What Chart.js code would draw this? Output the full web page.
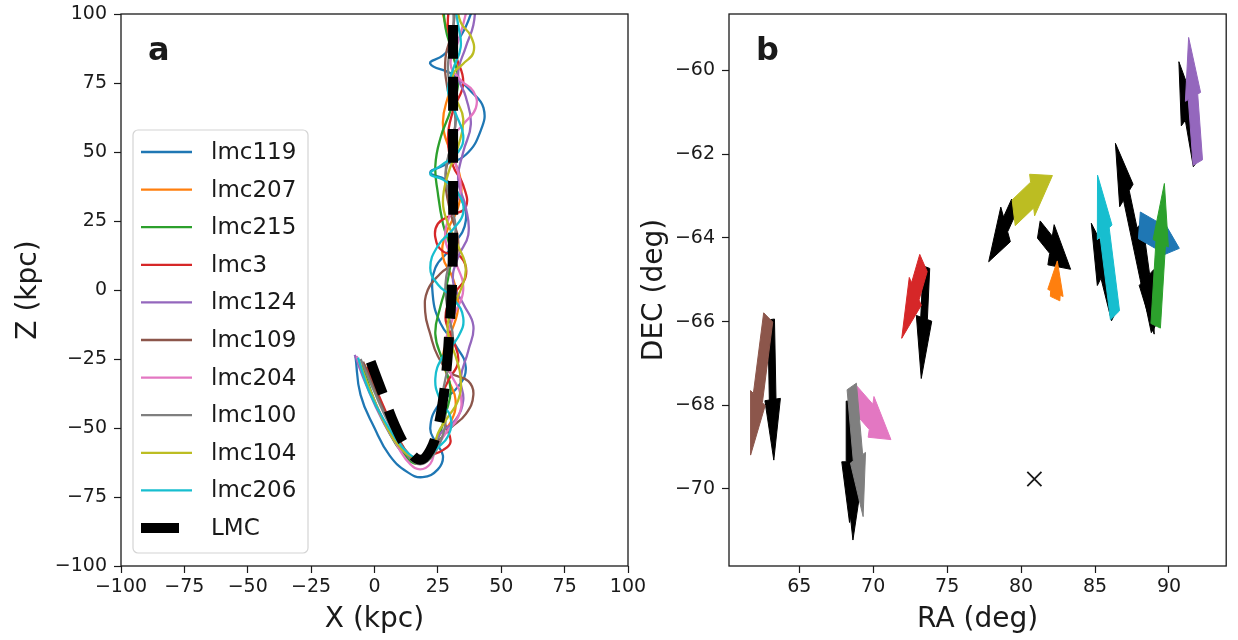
<!DOCTYPE html>
<html>
<head>
<meta charset="utf-8">
<script src="https://cdn.jsdelivr.net/npm/chart.js@4.4.1/dist/chart.umd.min.js"></script>
<style>
  body { margin: 0; background: #fff; }
  #wrap { position: relative; width: 1238px; height: 640px; overflow: hidden; }
  .panel { position: absolute; top: 0; height: 640px; }
</style>
</head>
<body>
<div id="wrap">
  <div class="panel" style="left:0;width:700px"><canvas id="orbits"></canvas></div>
  <div class="panel" style="left:630px;width:608px"><canvas id="motions"></canvas></div>
</div>
<script>
// ---- panel a: orbits in the X-Z plane (kpc) ----
const orbitNames = ['lmc119', 'lmc207', 'lmc215', 'lmc3', 'lmc124', 'lmc109', 'lmc204', 'lmc100', 'lmc104', 'lmc206'];
const orbitColors = ['#1f77b4', '#ff7f0e', '#2ca02c', '#d62728', '#9467bd', '#8c564b', '#e377c2', '#7f7f7f', '#bcbd22', '#17becf'];

const lmc119 = [[-7.5,-24],[-5.5,-38],[0,-50],[6,-60],[13,-66],[19,-67.8],[25,-65],[27,-60],[24,-55],[22,-50],[25,-42],[33,-35],[36,-28],[32,-20],[26,-12],[23,-2],[24,8],[30,15],[36,25],[33,35],[28,40],[22,42.5],[27,45],[36,49],[42,58],[43,66],[38,72],[31,78],[22,82],[27,85],[34,92],[38,100],[40,106]];
const lmc207 = [[-4,-27],[2,-40],[8,-52],[13,-60],[17,-63],[21,-61],[23,-56],[26,-52],[30,-48],[32,-40],[29,-32],[27,-24],[30,-16],[33,-6],[31,4],[27,12],[28,20],[33,30],[34,40],[30,50],[27,60],[29,70],[33,80],[30,90],[27,100],[26,106]];
const lmc215 = [[-5,-27],[0,-40],[6,-52],[12,-60],[17,-63],[22,-60],[25,-54],[28,-45],[30,-36],[27,-26],[24,-16],[26,-6],[29,4],[30,14],[27,24],[25,35],[24,45],[26,55],[30,65],[33,75],[31,85],[28,95],[27,106]];
const lmc3 = [[-3,-28],[3,-41],[9,-53],[14,-60],[18,-62],[22,-60],[27,-58],[30,-55],[28,-49],[26,-41],[29,-33],[33,-26],[31,-18],[28,-10],[31,-2],[36,5],[34,12],[27,14],[24,19],[25,24],[30,27],[36,30],[35,38],[31,45],[29,55],[31,65],[35,75],[32,85],[29,95],[30,106]];
const lmc124 = [[-7.8,-23.5],[-3,-35],[3,-47],[9,-56],[14,-60],[19,-61],[23,-57],[26,-52],[32,-47],[35,-40],[34,-32],[37,-22],[39,-13],[35,-5],[31,3],[33,12],[37,20],[36,30],[33,40],[35,50],[38,60],[36,70],[33,78],[36,88],[39,96],[40,106]];
const lmc109 = [[-4.5,-26],[1,-38],[7,-50],[12,-58],[16,-62],[21,-60],[25,-55],[30,-50],[36,-45],[39,-38],[37,-33],[30,-30],[25,-24],[22,-16],[20,-8],[21,0],[26,6],[31,10],[33,18],[30,28],[28,40],[30,52],[32,62],[29,72],[28,84],[31,95],[32,106]];
const lmc204 = [[-7,-24],[-2,-36],[4,-48],[10,-58],[14,-63],[18,-65],[22,-63],[24,-58],[28,-52],[33,-46],[34,-38],[30,-30],[28,-20],[31,-10],[35,0],[32,10],[28,18],[30,28],[34,36],[32,46],[30,54],[35,60],[40,66],[39,72],[34,76],[30,82],[33,90],[36,100],[37,106]];
const lmc100 = [[-5.5,-25],[0,-37],[6,-49],[11,-57],[15,-62],[19,-63],[23,-60],[26,-55],[28,-48],[27,-38],[29,-28],[31,-18],[29,-8],[28,2],[30,12],[32,22],[30,32],[28,42],[30,52],[32,62],[30,72],[29,82],[31,92],[31,106]];
const lmc104 = [[-6,-26],[-1,-38],[5,-50],[11,-58],[16,-61],[20,-62],[23,-59],[25,-52],[29,-46],[33,-40],[34,-32],[32,-24],[29,-16],[30,-8],[34,0],[36,8],[33,16],[29,24],[27,32],[29,42],[33,52],[35,62],[32,70],[31,78],[35,82],[39,86],[38,92],[34,97],[32,106]];
const lmc206 = [[-6.5,-24.5],[-2,-37],[5,-49],[11,-57],[16,-61],[20,-62],[24,-58],[29,-53],[30,-46],[26,-40],[24,-32],[27,-24],[33,-17],[35,-10],[31,-3],[25,2],[22,8],[25,16],[31,22],[35,28],[33,35],[27,40],[22,42],[26,45],[33,50],[35,56],[32,64],[29,72],[31,80],[34,88],[33,96],[31,106]];
const lmcOrbit = [[-1.5,-26],[3,-37],[8,-49],[13,-57.5],[18,-61.5],[22,-58],[25,-50],[27,-40],[28.5,-28],[29.5,-15],[30.5,0],[31,20],[31,40],[31,60],[31,80],[31,106]];

const orbitTracks = [lmc119, lmc207, lmc215, lmc3, lmc124, lmc109, lmc204, lmc100, lmc104, lmc206];
const kpcTicks = [-100, -75, -50, -25, 0, 25, 50, 75, 100];

// ---- panel b: proper motion arrows on the sky (deg) ----
// coloured arrows: model motion of each star
const modelFromRA  = [88.0, 82.3, 89.1, 73.4, 91.95, 62.9, 68.8, 68.55, 79.5, 86.35];
const modelFromDEC = [-63.7, -65.45, -66.1, -64.6, -62.2, -65.9, -67.85, -67.55, -63.4, -65.85];
const modelToRA    = [90.7, 82.45, 89.69, 71.93, 91.33, 61.71, 71.2, 69.32, 82.12, 85.17];
const modelToDEC   = [-64.25, -64.55, -62.7, -66.4, -59.21, -69.19, -68.82, -70.66, -62.51, -62.5];
// black arrows: measured motion
const obsFromRA  = [88.0, 81.2, 89.0, 73.6, 91.85, 63.1, 68.8, 68.4, 79.5, 86.3];
const obsFromDEC = [-63.7, -63.8, -66.15, -64.7, -62.2, -65.95, -67.85, -67.9, -63.25, -65.85];
const obsToRA    = [89.0, 83.35, 86.38, 73.25, 90.67, 63.28, 68.63, 68.4, 77.81, 84.75];
const obsToDEC   = [-66.3, -64.75, -61.74, -67.36, -59.79, -69.31, -71.22, -70.8, -64.57, -63.65];
const lmcCentre = { ra: 80.9, dec: -69.76 };
const raTicks = [65, 70, 75, 80, 85, 90];
const decTicks = [-70, -68, -66, -64, -62, -60];

const FONT = "'DejaVu Sans', 'Liberation Sans', sans-serif";
const INK = '#1a1a1a';
const fmt = v => (v < 0 ? '\u2212' + Math.abs(v) : String(v));

// fixed box sizes so both plot areas land where they should
function axisX(ticks, title, min, max) {
  return {
    type: 'linear', min, max,
    afterBuildTicks: s => { s.ticks = ticks.map(v => ({ value: v })); },
    afterFit: s => { s.height = 74; s.paddingLeft = 0; s.paddingRight = 0; },
    border: { display: false },
    grid: { drawOnChartArea: false, drawTicks: true, tickLength: 7, tickWidth: 1.2, tickColor: INK },
    ticks: { autoSkip: false, maxRotation: 0, padding: 3, color: INK, font: { family: FONT, size: 19 }, callback: fmt },
    title: { display: true, text: title, color: INK, font: { family: FONT, size: 28, lineHeight: 1.2 }, padding: { top: 0, bottom: 3 } }
  };
}
function axisY(ticks, title, min, max, width, titlePad) {
  return {
    type: 'linear', min, max,
    afterBuildTicks: s => { s.ticks = ticks.map(v => ({ value: v })); },
    afterFit: s => { s.width = width; s.paddingTop = 0; s.paddingBottom = 0; },
    border: { display: false },
    grid: { drawOnChartArea: false, drawTicks: true, tickLength: 7, tickWidth: 1.2, tickColor: INK },
    ticks: { autoSkip: false, padding: 7, color: INK, font: { family: FONT, size: 19 }, callback: fmt },
    title: { display: true, text: title, color: INK, font: { family: FONT, size: 28, lineHeight: 1.2 }, padding: { top: titlePad, bottom: 0 } }
  };
}

const framePlugin = {
  id: 'frame',
  afterDraw(chart, args, opts) {
    const { ctx, chartArea: a } = chart;
    ctx.save();
    ctx.strokeStyle = INK;
    ctx.lineWidth = 1.3;
    ctx.strokeRect(a.left, a.top, a.right - a.left, a.bottom - a.top);
    ctx.fillStyle = INK;
    ctx.font = `bold 32px ${FONT}`;
    ctx.textBaseline = 'alphabetic';
    ctx.fillText(opts.letter, a.left + 27, a.top + 46);
    ctx.restore();
  }
};

const legendPlugin = {
  id: 'boxLegend',
  afterDatasetsDraw(chart) {
    const { ctx } = chart;
    const x0 = 133, y0 = 130, w = 175, h = 423, r = 5;
    ctx.save();
    ctx.beginPath();
    ctx.roundRect(x0, y0, w, h, r);
    ctx.fillStyle = 'rgba(255,255,255,0.85)';
    ctx.fill();
    ctx.strokeStyle = '#d4d4d4';
    ctx.lineWidth = 1.2;
    ctx.stroke();
    ctx.font = `23px ${FONT}`;
    ctx.textBaseline = 'middle';
    const items = orbitNames.map((n, i) => ({ label: n, color: orbitColors[i], lmc: false }))
      .concat([{ label: 'LMC', color: '#000', lmc: true }]);
    items.forEach((it, i) => {
      const yy = y0 + 22 + i * 37.6;
      ctx.beginPath();
      if (it.lmc) {
        ctx.lineWidth = 10;
        ctx.moveTo(141, yy); ctx.lineTo(179, yy);
      } else {
        ctx.lineWidth = 2.3;
        ctx.moveTo(141, yy); ctx.lineTo(192, yy);
      }
      ctx.strokeStyle = it.color;
      ctx.stroke();
      ctx.fillStyle = INK;
      ctx.fillText(it.label, 211, yy + 1);
    });
    ctx.restore();
  }
};

const orbitSets = orbitTracks.map((track, i) => ({
  label: orbitNames[i],
  data: track.map(([x, y]) => ({ x, y })),
  showLine: true, borderColor: orbitColors[i], borderWidth: 2.3,
  pointRadius: 0, tension: 0.45, order: 10 - i
}));
orbitSets.push({
  label: 'LMC',
  data: lmcOrbit.map(([x, y]) => ({ x, y })),
  showLine: true, borderColor: '#000', borderWidth: 10, borderDash: [34, 18],
  borderCapStyle: 'butt', pointRadius: 0, tension: 0.4, order: 0
});

new Chart(document.getElementById('orbits'), {
  type: 'scatter',
  data: { datasets: orbitSets },
  options: {
    responsive: true, maintainAspectRatio: false, animation: false,
    layout: { padding: { left: 0, right: 72, top: 14, bottom: 0 } },
    plugins: { legend: { display: false }, tooltip: { enabled: false }, frame: { letter: 'a' } },
    scales: {
      x: axisX(kpcTicks, 'X (kpc)', -100, 100),
      y: axisY(kpcTicks, 'Z (kpc)', -100, 100, 121, 12)
    }
  },
  plugins: [legendPlugin, framePlugin]
});

// arrow outline built in data units, then mapped through the scales
const HEAD_LEN = 1.45, HEAD_WIDTH = 1.05;
const arrowPlugin = {
  id: 'pmArrows',
  afterDatasetsDraw(chart) {
    const { ctx, chartArea: a, scales: { x, y } } = chart;
    const shape = (ra0, dec0, ra1, dec1, color, w) => {
      const dx = ra1 - ra0, dy = dec1 - dec0, len = Math.hypot(dx, dy);
      const hl = Math.min(HEAD_LEN, 0.85 * len), hw = HEAD_WIDTH;
      const ux = dx / len, uy = dy / len, nx = -uy, ny = ux;
      const bx = ra1 - ux * hl, by = dec1 - uy * hl;
      const pts = [
        [ra0 + nx * w / 2, dec0 + ny * w / 2],
        [bx + nx * w / 2, by + ny * w / 2],
        [bx + nx * hw / 2, by + ny * hw / 2],
        [ra1, dec1],
        [bx - nx * hw / 2, by - ny * hw / 2],
        [bx - nx * w / 2, by - ny * w / 2],
        [ra0 - nx * w / 2, dec0 - ny * w / 2]
      ];
      ctx.beginPath();
      pts.forEach(([p, q], i) => {
        const px = x.getPixelForValue(p), py = y.getPixelForValue(q);
        if (i) ctx.lineTo(px, py); else ctx.moveTo(px, py);
      });
      ctx.closePath();
      ctx.fillStyle = color;
      ctx.strokeStyle = color;
      ctx.lineWidth = 1;
      ctx.fill();
      ctx.stroke();
    };
    ctx.save();
    ctx.beginPath();
    ctx.rect(a.left, a.top, a.right - a.left, a.bottom - a.top);
    ctx.clip();
    obsFromRA.forEach((ra, i) => shape(ra, obsFromDEC[i], obsToRA[i], obsToDEC[i], '#000', 0.45));
    modelFromRA.forEach((ra, i) => shape(ra, modelFromDEC[i], modelToRA[i], modelToDEC[i], orbitColors[i], 0.65));
    ctx.restore();
  }
};

new Chart(document.getElementById('motions'), {
  type: 'scatter',
  data: {
    datasets: [{
      label: 'LMC centre',
      data: [{ x: lmcCentre.ra, y: lmcCentre.dec }],
      pointStyle: 'crossRot', pointRadius: 10, borderColor: INK, borderWidth: 1.8
    }]
  },
  options: {
    responsive: true, maintainAspectRatio: false, animation: false,
    layout: { padding: { left: 0, right: 2, top: 14, bottom: 0 } },
    plugins: { legend: { display: false }, tooltip: { enabled: false }, frame: { letter: 'b' } },
    scales: {
      x: axisX(raTicks, 'RA (deg)', 60.25, 93.87),
      y: axisY(decTicks, 'DEC (deg)', -71.84, -58.65, 99, 8)
    }
  },
  plugins: [arrowPlugin, framePlugin]
});
</script>
</body>
</html>
